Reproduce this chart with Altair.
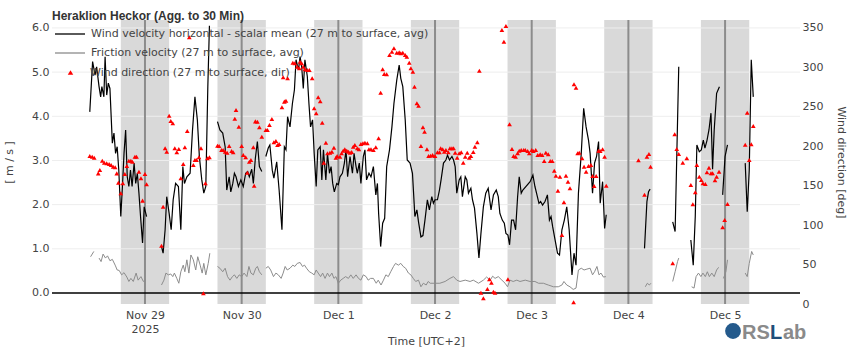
import altair as alt
import pandas as pd
from datetime import datetime, timedelta, timezone

TITLE = "Heraklion Heckor (Agg. to 30 Min)"
NAME_WS = "Wind velocity horizontal - scalar mean (27 m to surface, avg)"
NAME_FV = "Friction velocity (27 m to surface, avg)"
NAME_WD = "Wind direction (27 m to surface, dir)"

# time = hours since 2025-11-28 00:00 (UTC+2 local clock); None = gap in record
wind_speed = [
    (10.3, 4.10), (11.0, 5.24), (11.6, 4.93), (12.0, 5.12), (12.6, 4.67), (13.0, 4.44), (13.3, 4.67),
    (13.8, 4.44), (14.1, 5.35), (14.5, 4.48), (14.9, 4.75), (15.3, 4.63), (15.9, 3.39), (16.3, 3.62),
    (16.7, 3.16), (17.1, 3.31), (17.5, 2.78), (18.0, 1.73), (18.4, 2.41), (18.8, 3.16), (19.2, 3.69),
    (19.6, 2.63), (20.0, 2.41), (20.4, 2.78), (20.8, 2.41), (21.3, 2.94), (21.7, 2.48), (22.1, 2.71),
    (22.5, 2.26), (22.9, 1.73), (23.4, 1.13), (23.8, 1.95), (24.2, 1.80), (24.4, 1.73), (25.0, None),
    (28.1, 1.05), (28.5, 0.90), (29.0, 1.43), (29.4, 2.18), (30.0, 1.80), (30.5, 1.43), (31.0, 2.11),
    (31.6, 2.48), (32.3, 2.41), (32.9, 1.43), (33.4, 2.86), (33.8, 2.48), (34.4, 2.63), (35.2, 2.71),
    (35.8, 3.69), (36.4, 4.44), (37.0, 3.92), (37.5, 3.09), (38.1, 2.56), (38.6, 2.26), (39.1, 2.41),
    (39.6, 4.67), (40.0, 6.05), (41.0, None),
    (42.0, 3.88), (42.6, 3.69), (43.3, 3.62), (43.9, 3.31), (44.3, 2.33), (44.9, 2.63), (45.3, 2.29),
    (45.8, 2.48), (46.2, 2.71), (46.6, 2.63), (47.2, 2.41), (47.8, 2.56), (48.4, 2.41), (49.0, 2.71),
    (49.5, 2.75), (49.9, 2.63), (50.5, 2.80), (50.9, 2.48), (51.4, 3.05), (51.9, 3.43), (52.4, 2.86),
    (53.0, 2.75), (53.5, None),
    (54.0, 3.09), (54.6, 3.28), (55.0, 3.35), (55.6, 2.78), (56.0, 2.60), (56.7, 2.97), (57.3, 2.33),
    (58.0, 1.43), (58.6, 3.31), (59.0, 3.24), (59.4, 3.99), (60.0, 3.76), (60.6, 4.29), (61.1, 4.60),
    (61.5, 5.28), (62.1, 5.05), (62.5, 5.35), (62.9, 5.12), (63.3, 4.63), (63.7, 5.28), (64.3, 4.90),
    (64.7, 4.29), (65.1, 3.76), (65.6, 3.92), (66.0, 3.16), (66.5, 2.41), (66.9, 3.24), (67.5, 3.31),
    (67.9, 2.56), (68.3, 3.24), (68.9, 2.56), (69.3, 3.16), (69.8, 2.71), (70.2, 2.86), (70.6, 2.48),
    (71.0, 2.29), (71.6, 2.48), (72.0, 2.45), (72.4, 2.63), (73.0, 2.71), (73.5, 2.94), (73.9, 3.24),
    (74.3, 2.63), (74.9, 3.09), (75.5, 2.71), (75.9, 3.16), (76.4, 2.86), (76.7, 2.71), (77.2, 2.94),
    (77.6, 2.48), (78.2, 3.09), (78.6, 3.24), (79.0, 2.56), (79.6, 2.71), (80.1, 2.63), (80.7, 2.86),
    (81.3, 2.22), (81.7, 2.48), (82.0, 1.80), (82.5, 1.05), (83.0, 1.58), (83.5, 1.69), (84.0, 2.86),
    (84.7, 3.24), (85.3, 3.76), (85.8, 4.29), (86.5, 4.82), (87.1, 5.16), (87.5, 4.86), (88.0, 4.67),
    (88.6, 3.92), (89.1, 3.01), (89.8, 2.94), (90.4, 2.71), (91.0, 1.73), (91.5, 1.88), (91.9, 1.61),
    (92.5, 1.27), (93.0, 1.30), (93.5, 1.65), (94.1, 2.11), (94.6, 1.88), (95.2, 2.18), (95.6, 2.03),
    (96.0, 2.11), (96.6, 2.11), (97.1, 2.33), (97.5, 2.56), (98.1, 2.94), (98.7, 3.01), (99.1, 3.12),
    (99.6, 3.01), (100.2, 3.09), (100.6, 3.01), (101.0, 2.86), (101.4, 2.26), (102.0, 2.56), (102.4, 2.63),
    (102.8, 2.18), (103.5, 2.63), (103.9, 2.56), (104.3, 2.26), (104.9, 2.37), (105.3, 2.11), (105.8, 1.92),
    (106.4, 1.35), (106.9, 0.79), (107.4, 1.35), (108.0, 1.95), (108.6, 2.26), (109.2, 2.37), (109.9, 1.88),
    (110.5, 2.22), (111.2, 2.33), (111.7, 2.18), (112.1, 1.80), (112.7, 1.65), (113.2, 1.58), (113.6, 1.35),
    (114.1, 1.31), (114.5, 1.09), (115.0, 1.65), (115.5, 1.65), (116.0, 1.43), (116.5, 2.18), (116.9, 2.63),
    (117.4, 2.26), (117.8, 2.33), (119.6, 2.52), (120.3, 2.67), (120.8, 2.41), (121.2, 2.26), (121.8, 2.03),
    (122.2, 2.07), (122.7, 1.99), (123.3, 2.07), (123.9, 2.22), (124.4, 1.65), (124.8, 1.73), (125.2, 1.50),
    (125.8, 1.20), (126.4, 0.90), (126.9, 0.86), (127.5, 1.43), (128.1, 1.65), (128.7, 1.95), (129.3, 1.43),
    (130.0, 0.41), (130.5, 0.90), (131.0, 0.63), (131.6, 2.26), (132.3, 3.16), (132.9, 4.18), (133.5, 3.76),
    (134.1, 3.46), (134.5, 3.16), (135.1, 2.26), (135.6, 2.94), (136.1, 3.09), (136.6, 3.43), (137.0, 2.03),
    (137.6, 2.52), (138.1, 1.46), (138.5, 1.77), (139.0, None),
    (148.0, 1.01), (148.6, 2.07), (149.0, 2.29), (149.4, 2.35), (150.0, None),
    (155.0, 1.61), (155.6, 1.39), (156.5, 5.12), (157.0, None),
    (159.5, 1.20), (160.1, 0.63), (160.6, 1.73), (161.0, 3.35), (161.6, 3.20), (162.1, 3.24), (162.6, 3.46),
    (163.0, 3.28), (163.5, 3.45), (164.0, 3.69), (164.5, 4.07), (164.9, 2.80), (165.3, 3.69), (165.9, 4.52),
    (166.6, 4.67), (167.0, None),
    (167.4, 2.22), (168.0, 3.09), (168.6, 3.35), (169.0, None),
    (173.0, 2.94), (173.5, 1.84), (174.0, 2.78), (174.5, 5.28), (175.0, 4.44),
]

friction_velocity = [
    (10.5, 0.82), (11.3, 0.94), (12.0, None),
    (12.6, 0.79), (13.1, 0.71), (13.6, 0.88), (14.2, 0.79), (14.7, 0.84), (15.3, 0.73), (15.9, 0.76),
    (16.6, 0.63), (17.1, 0.52), (17.6, 0.51), (18.2, 0.41), (18.8, 0.46), (19.5, 0.36), (20.0, 0.26),
    (20.5, 0.33), (21.1, 0.26), (21.8, 0.45), (22.3, 0.29), (23.0, 0.37), (23.6, 0.26), (24.2, 0.31),
    (25.0, None),
    (28.1, 0.18), (28.7, 0.29), (29.2, 0.45), (29.8, 0.41), (30.4, 0.43), (30.9, 0.37), (31.3, 0.45),
    (31.9, 0.33), (32.4, 0.22), (32.9, 0.48), (33.5, 0.63), (33.9, 0.48), (34.4, 0.75), (34.9, 0.45),
    (35.4, 0.86), (36.0, 0.75), (36.6, 0.52), (37.1, 0.82), (37.7, 0.63), (38.2, 0.45), (38.6, 0.67),
    (39.1, 0.41), (39.7, 0.67), (40.1, 0.90), (41.0, None),
    (42.0, 0.60), (42.6, 0.56), (43.3, 0.48), (43.9, 0.56), (44.5, 0.37), (45.1, 0.29), (45.7, 0.37),
    (46.2, 0.41), (46.8, 0.33), (47.4, 0.41), (48.0, 0.37), (48.6, 0.45), (49.3, 0.37), (49.8, 0.60),
    (50.3, 0.45), (50.9, 0.41), (51.5, 0.56), (51.9, 0.60), (52.4, 0.48), (53.0, 0.41), (53.5, None),
    (54.0, 0.56), (54.6, 0.60), (55.2, 0.52), (55.9, 0.37), (56.5, 0.45), (57.1, 0.41), (57.8, 0.33),
    (58.3, 0.45), (58.8, 0.60), (59.3, 0.52), (60.0, 0.56), (60.7, 0.63), (61.2, 0.60), (61.8, 0.67),
    (62.5, 0.69), (63.1, 0.60), (63.6, 0.63), (64.1, 0.56), (64.8, 0.48), (65.4, 0.45), (66.0, 0.41),
    (66.5, 0.52), (67.0, 0.45), (67.6, 0.37), (68.1, 0.45), (68.7, 0.33), (69.3, 0.45), (69.8, 0.37),
    (70.4, 0.45), (70.9, 0.33), (71.4, 0.37), (72.0, 0.22), (72.6, 0.29), (73.2, 0.33), (73.8, 0.37),
    (74.5, 0.33), (75.1, 0.41), (75.7, 0.33), (76.4, 0.41), (77.0, 0.33), (77.6, 0.29), (78.2, 0.41),
    (78.9, 0.37), (79.4, 0.29), (80.0, 0.33), (80.7, 0.33), (81.4, 0.22), (81.9, 0.29), (82.6, 0.18),
    (83.2, 0.29), (83.8, 0.41), (84.4, 0.37), (85.0, 0.48), (85.7, 0.60), (86.2, 0.67), (86.9, 0.63),
    (87.5, 0.67), (88.1, 0.60), (88.7, 0.56), (89.4, 0.45), (90.0, 0.41), (90.6, 0.33), (91.2, 0.26),
    (91.9, 0.29), (92.5, 0.14), (93.1, 0.22), (93.8, 0.18), (94.3, 0.26), (94.8, 0.22), (96.0, 0.22),
    (97.2, 0.22), (98.5, 0.26), (99.7, 0.33), (100.6, 0.37), (101.4, 0.29), (102.2, 0.26), (103.5, 0.29),
    (104.7, 0.26), (105.5, 0.29), (106.8, 0.22), (108.0, 0.29), (108.8, 0.36), (109.7, 0.29), (110.3, 0.38),
    (110.9, 0.33), (111.7, 0.37), (112.6, 0.29), (113.4, 0.22), (114.0, 0.14), (114.6, 0.29), (115.4, 0.26),
    (116.3, 0.29), (117.1, 0.26), (118.4, 0.29), (119.6, 0.26), (120.8, 0.26), (121.7, 0.22), (122.9, 0.22),
    (124.1, 0.18), (125.4, 0.14), (126.6, 0.14), (127.5, 0.18), (128.0, 0.26), (128.7, 0.18), (129.5, 0.14),
    (130.3, 0.08), (131.0, 0.11), (131.6, 0.52), (132.3, 0.56), (133.0, 0.52), (133.7, 0.54), (134.5, 0.56),
    (135.1, 0.41), (135.6, 0.48), (136.2, 0.60), (136.7, 0.41), (137.2, 0.45), (137.8, 0.36), (138.4, 0.37),
    (139.0, None),
    (148.2, 0.14), (148.7, 0.22), (149.2, 0.18), (149.6, 0.22), (150.0, None),
    (155.0, 0.26), (155.6, 0.48), (156.2, 0.71), (156.5, 0.79), (157.0, None),
    (159.7, 0.14), (160.3, 0.11), (160.8, 0.37), (161.4, 0.45), (162.0, 0.37), (162.5, 0.45), (163.1, 0.37),
    (163.6, 0.48), (164.1, 0.37), (164.7, 0.45), (165.3, 0.37), (165.9, 0.52), (166.4, 0.58), (167.0, None),
    (167.6, 0.33), (168.2, 0.48), (168.6, 0.75), (169.0, None),
    (173.0, 0.45), (173.5, 0.37), (174.0, 0.67), (174.6, 0.94), (175.0, 0.86),
]

wind_direction = [
    (10.3, 187.6), (10.9, 186.7), (11.4, 185.5), (12.4, 165.6), (12.8, 169.9), (13.4, 181.7), (13.9, 179.1),
    (14.5, 178.3), (15.1, 177.5), (15.6, 176.2), (16.1, 174.0), (16.6, 173.3), (17.0, 165.6), (17.4, 153.8),
    (18.0, 140.3), (18.5, 153.0), (19.0, 164.8), (19.5, 174.9), (20.0, 181.7), (20.5, 181.7), (20.9, 180.4),
    (21.5, 186.7), (21.9, 186.7), (22.5, 167.7), (23.0, 159.3), (23.4, 131.0), (24.0, 164.8), (24.4, 151.7),
    (28.1, 73.9), (28.5, 123.3), (29.0, 197.4), (29.4, 193.1), (30.0, 238.7), (30.4, 232.0), (30.9, 229.1),
    (31.4, 197.4), (31.9, 192.3), (32.4, 196.5), (32.9, 159.3), (33.5, 177.5), (33.9, 198.6), (34.5, 219.3),
    (35.0, 338.1), (36.0, 176.2), (36.4, 182.5), (36.8, 182.5), (37.4, 186.0), (37.9, 197.4), (38.5, 13.6),
    (39.0, 153.0), (39.5, 184.7), (40.0, 186.0),
    (42.0, 200.7), (42.4, 200.3), (43.0, 195.2), (43.4, 195.2), (43.9, 193.1), (44.4, 191.8), (44.9, 200.3),
    (45.5, 193.9), (45.9, 192.3), (46.3, 234.9), (46.6, 245.9), (47.3, 224.8), (48.0, 200.3), (48.4, 188.9),
    (49.0, 186.0), (49.4, 166.4), (49.9, 180.4), (50.3, 182.5), (50.9, 198.6), (51.1, 150.0), (51.4, 231.5),
    (51.9, 231.1), (52.4, 224.0), (53.0, 212.1),
    (54.0, 220.6), (54.4, 220.6), (54.9, 226.9), (55.5, 234.5), (56.0, 205.0), (56.5, 206.6), (56.9, 201.5),
    (57.3, 202.8), (58.0, 249.3), (58.3, 287.4), (58.6, 256.5), (59.0, 257.7), (59.4, 286.1), (60.7, 305.9),
    (61.2, 305.1), (61.8, 300.8), (62.3, 298.8), (62.5, 307.1), (62.9, 305.1), (63.3, 300.8), (63.7, 297.5),
    (64.3, 296.6), (64.8, 296.6), (65.5, 286.1), (66.0, 248.1), (66.5, 241.7), (67.0, 262.0), (67.5, 256.9),
    (68.0, 229.8), (68.4, 179.1), (68.9, 204.5), (69.3, 191.0), (69.9, 191.8), (70.4, 193.1), (70.9, 198.1),
    (71.4, 185.5), (71.7, 187.6), (72.4, 186.7), (72.8, 191.0), (73.2, 194.3), (73.6, 196.1), (74.1, 194.3),
    (74.5, 193.1), (74.9, 191.8), (75.3, 192.7), (75.7, 199.4), (76.1, 201.5), (76.7, 197.4), (77.1, 196.1),
    (77.6, 202.8), (78.1, 203.7), (78.6, 204.5), (79.2, 203.7), (79.6, 196.1), (80.1, 196.1), (80.7, 195.2),
    (81.3, 198.6), (82.0, 210.0), (82.5, 267.8), (83.0, 297.5), (83.4, 291.5), (84.0, 291.2), (84.7, 315.6),
    (85.3, 319.8), (85.8, 324.1), (86.5, 318.6), (87.1, 319.0), (87.5, 317.8), (88.0, 318.6), (88.6, 315.6),
    (89.0, 313.5), (89.6, 305.9), (90.0, 298.8), (90.5, 294.5), (90.9, 275.5), (91.5, 254.4), (91.9, 251.4),
    (92.5, 200.3), (93.0, 224.0), (93.4, 218.4), (94.0, 196.1), (94.4, 187.6), (94.9, 188.0), (95.4, 188.9),
    (96.0, 187.6), (96.6, 192.3), (97.1, 192.3), (97.4, 197.4), (97.9, 196.1), (98.3, 193.1), (98.7, 195.2),
    (99.3, 192.3), (99.7, 197.4), (100.2, 197.4), (100.6, 197.4), (101.0, 191.8), (101.5, 185.5), (102.0, 191.0),
    (102.5, 192.3), (103.0, 179.1), (103.5, 186.7), (104.0, 191.8), (104.5, 185.5), (104.9, 187.6), (105.5, 192.7),
    (105.9, 199.4), (106.5, 205.0), (107.0, 295.7), (107.4, 14.3), (108.0, 7.2), (109.0, 19.0), (109.5, 31.3),
    (110.0, 27.0), (110.5, 15.6), (110.9, 14.3), (112.6, 347.3), (113.1, 332.5), (113.6, 352.4), (114.1, 31.3),
    (114.5, 227.8), (115.1, 196.5), (115.5, 187.6), (116.0, 186.7), (116.5, 191.0), (116.9, 194.3), (117.4, 195.2),
    (118.0, 195.2), (118.4, 195.2), (119.0, 193.9), (119.4, 191.0), (120.0, 195.2), (120.4, 193.9), (121.0, 195.2),
    (121.5, 188.9), (122.1, 189.8), (122.6, 188.9), (123.1, 181.3), (123.5, 191.8), (124.1, 189.8), (124.6, 181.3),
    (125.1, 181.3), (125.6, 169.0), (126.0, 162.6), (126.5, 143.6), (127.0, 161.4), (127.5, 87.5), (128.0, 128.9),
    (128.5, 162.6), (129.0, 155.0), (129.5, 146.7), (130.4, 2.2), (130.5, 278.5), (131.0, 274.2), (131.4, 191.0),
    (131.8, 191.8), (132.5, 184.7), (133.0, 174.0), (133.5, 167.7), (134.1, 174.9), (134.7, 176.2), (135.1, 162.3),
    (135.5, 149.6), (136.0, 162.3), (136.6, 194.3), (137.0, 193.9), (137.6, 196.1), (138.1, 186.7), (138.5, 150.0),
    (146.5, 182.1), (148.0, 138.6), (148.6, 186.7), (149.1, 190.1), (149.5, 174.0),
    (155.0, 51.6), (155.5, 215.1), (156.0, 196.5), (156.5, 190.1), (157.5, 179.1), (158.5, 184.7),
    (159.5, 150.8), (160.0, 126.4), (160.6, 141.6), (161.0, 176.2), (161.6, 161.4), (162.1, 157.2), (162.5, 153.0),
    (163.1, 152.1), (163.5, 166.9), (164.0, 172.8), (164.5, 165.7), (164.9, 165.7), (165.5, 156.8), (165.9, 161.4),
    (166.5, 167.7), (167.4, 97.2), (167.9, 106.5), (168.6, 126.8),
    (173.0, 201.9), (173.5, 242.5), (174.0, 182.5), (174.5, 202.4), (175.0, 225.6),
]

night_start_hours = [18, 42, 66, 90, 114, 138, 162]      # 18:00 -> 06:00 shading
midnights = [(2025, 11, 29), (2025, 11, 30), (2025, 12, 1), (2025, 12, 2),
             (2025, 12, 3), (2025, 12, 4), (2025, 12, 5)]
left_ticks = [0, 1, 2, 3, 4, 5, 6]
right_ticks = [0, 50, 100, 150, 200, 250, 300, 350]
x_range_hours = [0.92, 186.6]

FONT = "DejaVu Sans"
T0 = datetime(2025, 11, 28, tzinfo=timezone.utc)


def iso(h):
    return (T0 + timedelta(hours=h)).strftime("%Y-%m-%dT%H:%M:%SZ")


def ms(h):
    return int((T0 + timedelta(hours=h)).timestamp() * 1000)


def seg_frame(pairs, name):
    rows, seg = [], 0
    for h, v in pairs:
        if v is None:
            seg += 1
            continue
        rows.append({"t": iso(h), "v": v, "seg": seg, "series": name})
    return pd.DataFrame(rows)


ws_df = seg_frame(wind_speed, NAME_WS)
fv_df = seg_frame(friction_velocity, NAME_FV)
wd_df = pd.DataFrame({"t": [iso(h) for h, _ in wind_direction],
                      "deg": [d for _, d in wind_direction],
                      "dseries": NAME_WD})
nights_df = pd.DataFrame({"t": [iso(h) for h in night_start_hours],
                          "t_end": [iso(h + 12) for h in night_start_hours]})
mid_df = pd.DataFrame({"t": [f"{y:04d}-{m:02d}-{d:02d}T00:00:00Z" for y, m, d in midnights]})
grid_df = pd.DataFrame({"v": left_ticks[1:]})
zero_df = pd.DataFrame({"v": [left_ticks[0]]})

xs = alt.Scale(type="utc", domain=[ms(x_range_hours[0]), ms(x_range_hours[1])])
ys = alt.Scale(domain=[-0.25, 6.18], nice=False, zero=False)
ys_r = alt.Scale(domain=[0, 360], nice=False, zero=False)

x_axis = alt.Axis(
    values=[alt.DateTime(year=y, month=m, date=d, utc=True) for y, m, d in midnights],
    labelExpr="utcFormat(datum.value, '%d') == '29' ? [utcFormat(datum.value, '%b %-d'), utcFormat(datum.value, '%Y')] : utcFormat(datum.value, '%b %-d')",
    title="Time [UTC+2]", grid=False, ticks=False, domain=False,
    labelFont=FONT, labelFontSize=11, labelColor="#444", labelPadding=5, labelLineHeight=14,
    labelOverlap=False, labelFlush=False,
    titleFont=FONT, titleFontSize=11, titleFontWeight="normal", titleColor="#444", titlePadding=1,
)
y_axis = alt.Axis(
    values=left_ticks, format=".1f", title="[ m / s ]", grid=False, ticks=False, domain=False,
    labelFont=FONT, labelFontSize=11, labelColor="#444", labelPadding=3,
    titleFont=FONT, titleFontSize=11, titleFontWeight="normal", titleColor="#444", titlePadding=17,
)
yr_axis = alt.Axis(
    orient="right", values=right_ticks, title="Wind direction [deg]", grid=False, ticks=False, domain=False,
    labelFont=FONT, labelFontSize=11, labelColor="#444", labelPadding=2,
    titleFont=FONT, titleFontSize=11, titleFontWeight="normal", titleColor="#444", titlePadding=13,
)

line_legend = alt.Legend(
    title=None, orient="none", legendX=12, legendY=8, symbolType="M-3,0H3", symbolSize=100,
    symbolStrokeWidth=1.3, labelFont=FONT, labelFontSize=11, labelColor="#444", labelOffset=15,
    rowPadding=8, padding=0, labelLimit=600,
)
color_enc = alt.Color("series:N", scale=alt.Scale(domain=[NAME_WS, NAME_FV], range=["#000000", "#8c8c8c"]),
                      legend=line_legend)

X = lambda f="t:T": alt.X(f, scale=xs, axis=x_axis)
Y = lambda f="v:Q": alt.Y(f, scale=ys, axis=y_axis)

bands = alt.Chart(nights_df).mark_rect(color="#d9d9d9").encode(x=X(), x2="t_end:T")
grid = alt.Chart(grid_df).mark_rule(color="#eeeeee", strokeWidth=1).encode(y=Y())
vlines = alt.Chart(mid_df).mark_rule(color="#8c8c8c", strokeWidth=2).encode(x=X())
zero = alt.Chart(zero_df).mark_rule(color="#000000", strokeWidth=1.5).encode(y=Y())
ws_line = alt.Chart(ws_df).mark_line(strokeWidth=1.2).encode(
    x=X(), y=Y(), color=color_enc, detail="seg:N")
fv_line = alt.Chart(fv_df).mark_line(strokeWidth=1).encode(
    x=X(), y=Y(), color=color_enc, detail="seg:N")

left = alt.layer(bands, grid, vlines, zero, ws_line, fv_line)

points = alt.Chart(wd_df).mark_point(filled=True, size=22, color="#ff0000", opacity=1).encode(
    x=X(),
    y=alt.Y("deg:Q", scale=ys_r, axis=yr_axis),
    shape=alt.Shape("dseries:N", scale=alt.Scale(domain=[NAME_WD], range=["triangle-up"]),
                    legend=alt.Legend(title=None, orient="none", legendX=13, legendY=47, symbolSize=30,
                                      symbolFillColor="#ff0000", symbolStrokeWidth=0,
                                      labelFont=FONT, labelFontSize=11, labelColor="#444",
                                      labelOffset=14, padding=0, labelLimit=600)))

logo_df = pd.DataFrame({"k": [0]})
globe = alt.Chart(logo_df).mark_point(filled=True, shape="circle", size=250, color="#245a8c", opacity=1).encode(
    x=alt.value(681), y=alt.value(311))
logo_rs = alt.Chart(logo_df).mark_text(text="RS", font="Liberation Sans", fontSize=20, fontWeight="bold",
                                       color="#8a8a8a", align="left", baseline="alphabetic").encode(
    x=alt.value(690), y=alt.value(319))
logo_l = alt.Chart(logo_df).mark_text(text="L", font="Liberation Sans", fontSize=20, fontWeight="bold",
                                      color="#1f4e79", align="left", baseline="alphabetic").encode(
    x=alt.value(718), y=alt.value(319))
logo_ab = alt.Chart(logo_df).mark_text(text="ab", font="Liberation Sans", fontSize=20, fontWeight="bold",
                                       color="#8a8a8a", align="left", baseline="alphabetic").encode(
    x=alt.value(731), y=alt.value(319))

chart = alt.layer(left, points, globe, logo_rs, logo_l, logo_ab).resolve_scale(
    y="independent"
).properties(
    width=748, height=284,
    title=alt.Title(TITLE, anchor="start", font="Liberation Sans", fontSize=12, fontWeight="bold",
                    color="#333", offset=-4, frame="group"),
    padding={"left": 52, "top": 20, "right": 50, "bottom": 46},
    autosize=alt.AutoSizeParams(type="none"),
).configure_view(stroke=None)

chart.save("out.html", embed_options={"renderer": "svg", "actions": False})
